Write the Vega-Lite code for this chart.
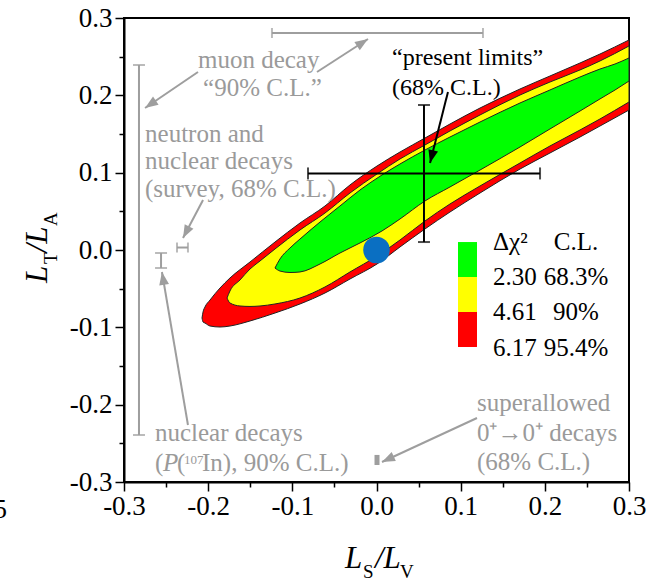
{
 "$schema": "https://vega.github.io/schema/vega-lite/v6.json",
 "width": 505, "height": 464,
 "autosize": {"type": "none"},
 "padding": {"left": 124, "top": 18, "right": 38, "bottom": 102},
 "background": "white",
 "config": {"view": {"stroke": "black", "strokeWidth": 2}, "font": "Liberation Serif"},
 "datasets": {
  "red": [
   {"x":-0.2073,"y":-0.0879,"y2":-0.0879},
   {"x":-0.2061,"y":-0.0802,"y2":-0.0931},
   {"x":-0.2038,"y":-0.0737,"y2":-0.0944},
   {"x":-0.1978,"y":-0.0647,"y2":-0.0983},
   {"x":-0.1859,"y":-0.0491,"y2":-0.0996},
   {"x":-0.1741,"y":-0.0362,"y2":-0.0983},
   {"x":-0.1503,"y":-0.0155,"y2":-0.0918},
   {"x":-0.1206,"y":0.0103,"y2":-0.0815},
   {"x":-0.0909,"y":0.0349,"y2":-0.0698},
   {"x":-0.0612,"y":0.0569,"y2":-0.0556},
   {"x":-0.0315,"y":0.0841,"y2":-0.0375},
   {"x":0.0006,"y":0.1086,"y2":-0.0181},
   {"x":0.0279,"y":0.1267,"y2":0.0039},
   {"x":0.0576,"y":0.1448,"y2":0.0272},
   {"x":0.0873,"y":0.1629,"y2":0.0491},
   {"x":0.1230,"y":0.1836,"y2":0.0737},
   {"x":0.1705,"y":0.2082,"y2":0.1047},
   {"x":0.2061,"y":0.2250,"y2":0.1254},
   {"x":0.2418,"y":0.2418,"y2":0.1461},
   {"x":0.2655,"y":0.2534,"y2":0.1603},
   {"x":0.3,"y":0.2716,"y2":0.1810}
  ],
  "yellow": [
   {"x":-0.1776,"y":-0.0621,"y2":-0.0621},
   {"x":-0.1741,"y":-0.0530,"y2":-0.0685},
   {"x":-0.1622,"y":-0.0388,"y2":-0.0724},
   {"x":-0.1503,"y":-0.0246,"y2":-0.0730},
   {"x":-0.1384,"y":-0.0142,"y2":-0.0724},
   {"x":-0.1206,"y":0.0013,"y2":-0.0698},
   {"x":-0.0909,"y":0.0259,"y2":-0.0621},
   {"x":-0.0612,"y":0.0478,"y2":-0.0478},
   {"x":-0.0315,"y":0.0737,"y2":-0.0284},
   {"x":0.0006,"y":0.0983,"y2":-0.0078},
   {"x":0.0279,"y":0.1177,"y2":0.0129},
   {"x":0.0576,"y":0.1358,"y2":0.0375},
   {"x":0.0873,"y":0.1539,"y2":0.0595},
   {"x":0.1230,"y":0.1746,"y2":0.0828},
   {"x":0.1705,"y":0.2004,"y2":0.1125},
   {"x":0.2061,"y":0.2172,"y2":0.1345},
   {"x":0.2418,"y":0.2328,"y2":0.1552},
   {"x":0.2655,"y":0.2444,"y2":0.1694},
   {"x":0.3,"y":0.2638,"y2":0.1914}
  ],
  "green": [
   {"x":-0.1206,"y":-0.0233,"y2":-0.0233},
   {"x":-0.1147,"y":-0.0116,"y2":-0.0272},
   {"x":-0.1028,"y":0.0026,"y2":-0.0291},
   {"x":-0.0909,"y":0.0142,"y2":-0.0284},
   {"x":-0.0671,"y":0.0362,"y2":-0.0181},
   {"x":-0.0434,"y":0.0569,"y2":-0.0039},
   {"x":-0.0196,"y":0.0776,"y2":0.0091},
   {"x":0.0065,"y":0.0970,"y2":0.0246},
   {"x":0.0279,"y":0.1112,"y2":0.0401},
   {"x":0.0576,"y":0.1293,"y2":0.0634},
   {"x":0.0873,"y":0.1461,"y2":0.0815},
   {"x":0.1230,"y":0.1655,"y2":0.1034},
   {"x":0.1705,"y":0.1901,"y2":0.1332},
   {"x":0.2061,"y":0.2069,"y2":0.1565},
   {"x":0.2418,"y":0.2237,"y2":0.1797},
   {"x":0.2655,"y":0.2340,"y2":0.1953},
   {"x":0.2834,"y":0.2405,"y2":0.2069},
   {"x":0.3,"y":0.2483,"y2":0.2185}
  ]
 },
 "encoding": {
  "x": {"field": "x", "type": "quantitative",
   "scale": {"domain": [-0.3, 0.3], "nice": false, "zero": false},
   "axis": {"title": null, "values": [-0.3,-0.25,-0.2,-0.15,-0.1,-0.05,0,0.05,0.1,0.15,0.2,0.25,0.3],
    "labelExpr": "abs(datum.value*10 - round(datum.value*10)) > 0.01 ? '' : (datum.value < -0.001 ? '-' : '') + format(abs(datum.value), '.1f')",
    "labelFont": "Liberation Serif", "labelFontSize": 27, "labelColor": "black", "labelPadding": 2,
    "labelFlush": false, "labelOverlap": false, "grid": false,
    "tickSize": {"condition": {"test": "abs(datum.value*10 - round(datum.value*10)) > 0.01", "value": 5}, "value": 9},
    "tickColor": "black", "tickWidth": 1.5, "domainColor": "black", "domainWidth": 2}},
  "y": {"field": "y", "type": "quantitative",
   "scale": {"domain": [-0.3, 0.3], "nice": false, "zero": false},
   "axis": {"title": null, "values": [-0.3,-0.25,-0.2,-0.15,-0.1,-0.05,0,0.05,0.1,0.15,0.2,0.25,0.3],
    "labelExpr": "abs(datum.value*10 - round(datum.value*10)) > 0.01 ? '' : (datum.value < -0.001 ? '-' : '') + format(abs(datum.value), '.1f')",
    "labelFont": "Liberation Serif", "labelFontSize": 27, "labelColor": "black", "labelPadding": 3,
    "labelFlush": false, "labelOverlap": false, "grid": false,
    "tickSize": {"condition": {"test": "abs(datum.value*10 - round(datum.value*10)) > 0.01", "value": 5}, "value": 9},
    "tickColor": "black", "tickWidth": 1.5, "domainColor": "black", "domainWidth": 2}}
 },
 "layer": [
  {"data": {"name": "red"}, "mark": {"type": "area", "interpolate": "monotone", "fill": "#ff0000", "stroke": "#222", "strokeWidth": 1, "opacity": 1}, "encoding": {"y2": {"field": "y2"}}},
  {"data": {"name": "yellow"}, "mark": {"type": "area", "interpolate": "monotone", "fill": "#ffff00", "stroke": "#222", "strokeWidth": 1, "opacity": 1}, "encoding": {"y2": {"field": "y2"}}},
  {"data": {"name": "green"}, "mark": {"type": "area", "interpolate": "monotone", "fill": "#00ff00", "stroke": "#222", "strokeWidth": 1, "opacity": 1}, "encoding": {"y2": {"field": "y2"}}},

  {"data": {"values": [{"x": -0.1242, "x2": 0.1265, "y": 0.2806}, {"x": -0.2370, "x2": -0.2240, "y": 0.0032}]},
   "mark": {"type": "errorbar", "color": "#9e9e9e", "thickness": 2, "ticks": {"size": 10}},
   "encoding": {"x2": {"field": "x2"}}},
  {"data": {"values": [{"x": -0.2822, "y": -0.2392, "y2": 0.2392}, {"x": -0.2560, "y": -0.0233, "y2": -0.0039}]},
   "mark": {"type": "errorbar", "color": "#9e9e9e", "thickness": 2, "ticks": {"size": 12}},
   "encoding": {"y2": {"field": "y2"}}},
  {"data": {"values": [{"x": 0.0006, "y": -0.278, "y2": -0.265}]},
   "mark": {"type": "rule", "color": "#9e9e9e", "strokeWidth": 5}, "encoding": {"y2": {"field": "y2"}}},

  {"data": {"values": [
    {"x": -0.2121, "y": 0.2302, "x2": -0.2750, "y2": 0.1836},
    {"x": -0.0707, "y": 0.2302, "x2": -0.0101, "y2": 0.2728},
    {"x": -0.2061, "y": 0.0647, "x2": -0.2299, "y2": 0.0155},
    {"x": -0.2240, "y": -0.2263, "x2": -0.2549, "y2": -0.0284},
    {"x": 0.1194, "y": -0.2172, "x2": 0.0065, "y2": -0.2741}]},
   "mark": {"type": "rule", "color": "#9e9e9e", "strokeWidth": 2},
   "encoding": {"x2": {"field": "x2"}, "y2": {"field": "y2"}}},
  {"data": {"values": [{"x": -0.2750, "y": 0.1836}]}, "mark": {"type": "point", "shape": "M0,0L-0.38,1L0.38,1Z", "size": 676, "filled": true, "color": "#9e9e9e", "opacity": 1, "angle": 235.8}},
  {"data": {"values": [{"x": -0.0101, "y": 0.2728}]}, "mark": {"type": "point", "shape": "M0,0L-0.38,1L0.38,1Z", "size": 676, "filled": true, "color": "#9e9e9e", "opacity": 1, "angle": 57.1}},
  {"data": {"values": [{"x": -0.2299, "y": 0.0155}]}, "mark": {"type": "point", "shape": "M0,0L-0.38,1L0.38,1Z", "size": 676, "filled": true, "color": "#9e9e9e", "opacity": 1, "angle": 207.8}},
  {"data": {"values": [{"x": -0.2549, "y": -0.0284}]}, "mark": {"type": "point", "shape": "M0,0L-0.38,1L0.38,1Z", "size": 676, "filled": true, "color": "#9e9e9e", "opacity": 1, "angle": 350.4}},
  {"data": {"values": [{"x": 0.0065, "y": -0.2741}]}, "mark": {"type": "point", "shape": "M0,0L-0.38,1L0.38,1Z", "size": 676, "filled": true, "color": "#9e9e9e", "opacity": 1, "angle": 245.1}},

  {"data": {"values": [{"x": -0.0814, "x2": 0.1943, "y": 0.099}]},
   "mark": {"type": "errorbar", "color": "black", "thickness": 2, "ticks": {"size": 12}},
   "encoding": {"x2": {"field": "x2"}}},
  {"data": {"values": [{"x": 0.0564, "y": 0.0103, "y2": 0.1875}]},
   "mark": {"type": "errorbar", "color": "black", "thickness": 2, "ticks": {"size": 12}},
   "encoding": {"y2": {"field": "y2"}}},
  {"data": {"values": [{"x": 0.0849, "y": 0.2043, "x2": 0.0636, "y2": 0.1125}]},
   "mark": {"type": "rule", "color": "black", "strokeWidth": 2},
   "encoding": {"x2": {"field": "x2"}, "y2": {"field": "y2"}}},
  {"data": {"values": [{"x": 0.0636, "y": 0.1125}]}, "mark": {"type": "point", "shape": "M0,0L-0.38,1L0.38,1Z", "size": 676, "filled": true, "color": "black", "opacity": 1, "angle": 194.2}},

  {"data": {"values": [{"x": 0, "y": 0}]}, "mark": {"type": "circle", "size": 707, "color": "#0a6fc2", "opacity": 1}},

  {"data": {"values": [
    {"x": 0.0968, "x2": 0.1194, "y": 0.0103, "y2": -0.0349, "level": "2.30"},
    {"x": 0.0968, "x2": 0.1194, "y": -0.0349, "y2": -0.0802, "level": "4.61"},
    {"x": 0.0968, "x2": 0.1194, "y": -0.0802, "y2": -0.1254, "level": "6.17"}]},
   "mark": {"type": "rect", "opacity": 1},
   "encoding": {"x2": {"field": "x2"}, "y2": {"field": "y2"},
    "color": {"field": "level", "type": "nominal", "scale": {"domain": ["2.30", "4.61", "6.17"], "range": ["#00ff00", "#ffff00", "#ff0000"]}, "legend": null}}},

  {"data": {"values": [
    {"x": -0.2121, "y": 0.2353, "t": "muon decay"},
    {"x": -0.2061, "y": 0.1991, "t": "“90% C.L.”"},
    {"x": -0.2750, "y": 0.1397, "t": "neutron and"},
    {"x": -0.2750, "y": 0.1047, "t": "nuclear decays"},
    {"x": -0.2750, "y": 0.0685, "t": "(survey, 68% C.L.)"},
    {"x": -0.2632, "y": -0.2466, "t": "nuclear decays"},
    {"x": -0.2632, "y": -0.2854, "t": "("},
    {"x": -0.2370, "y": -0.2854, "t": "("},
    {"x": -0.2073, "y": -0.2854, "t": "In), 90% C.L.)"},
    {"x": 0.1194, "y": -0.2082, "t": "superallowed"},
    {"x": 0.1194, "y": -0.2466, "t": "0⁺→0⁺ decays"},
    {"x": 0.1194, "y": -0.2845, "t": "(68% C.L.)"}]},
   "mark": {"type": "text", "align": "left", "baseline": "alphabetic", "font": "Liberation Serif", "fontSize": 25, "color": "#9a9a9a"},
   "encoding": {"text": {"field": "t"}}},
  {"data": {"values": [{"x": -0.2537, "y": -0.2854, "t": "P"}]},
   "mark": {"type": "text", "align": "left", "baseline": "alphabetic", "font": "Liberation Serif", "fontSize": 25, "fontStyle": "italic", "color": "#9a9a9a"},
   "encoding": {"text": {"field": "t"}}},
  {"data": {"values": [{"x": -0.2287, "y": -0.2767, "t": "107"}]},
   "mark": {"type": "text", "align": "left", "baseline": "alphabetic", "font": "Liberation Serif", "fontSize": 13, "color": "#9a9a9a"},
   "encoding": {"text": {"field": "t"}}},

  {"data": {"values": [
    {"x": 0.0184, "y": 0.2392, "t": "“present limits”"},
    {"x": 0.0184, "y": 0.2004, "t": "(68% C.L.)"}]},
   "mark": {"type": "text", "align": "left", "baseline": "alphabetic", "font": "Liberation Serif", "fontSize": 24, "color": "black"},
   "encoding": {"text": {"field": "t"}}},

  {"data": {"values": [
    {"x": 0.1384, "y": 0.0, "t": "Δχ²"},
    {"x": 0.1384, "y": -0.0453, "t": "2.30"},
    {"x": 0.1384, "y": -0.0905, "t": "4.61"},
    {"x": 0.1384, "y": -0.1371, "t": "6.17"}]},
   "mark": {"type": "text", "align": "left", "baseline": "alphabetic", "font": "Liberation Serif", "fontSize": 25, "color": "black"},
   "encoding": {"text": {"field": "t"}}},
  {"data": {"values": [
    {"x": 0.237, "y": 0.0, "t": "C.L."},
    {"x": 0.237, "y": -0.0453, "t": "68.3%"},
    {"x": 0.237, "y": -0.0905, "t": "90%"},
    {"x": 0.237, "y": -0.1371, "t": "95.4%"}]},
   "mark": {"type": "text", "align": "center", "baseline": "alphabetic", "font": "Liberation Serif", "fontSize": 25, "color": "black"},
   "encoding": {"text": {"field": "t"}}},

  {"data": {"values": [{"x": -0.0374, "y": -0.4112, "t": "L"}, {"x": -0.0018, "y": -0.4112, "t": "/L"}]},
   "mark": {"type": "text", "align": "left", "baseline": "alphabetic", "font": "Liberation Serif", "fontSize": 31, "fontStyle": "italic", "color": "black"},
   "encoding": {"text": {"field": "t"}}},
  {"data": {"values": [{"x": -0.0160, "y": -0.4241, "t": "S"}, {"x": 0.0280, "y": -0.4241, "t": "V"}]},
   "mark": {"type": "text", "align": "left", "baseline": "alphabetic", "font": "Liberation Serif", "fontSize": 19, "color": "black"},
   "encoding": {"text": {"field": "t"}}},
  {"data": {"values": [{"x": -0.3915, "y": -0.0427, "t": "L"}, {"x": -0.3915, "y": -0.0032, "t": "/L"}]},
   "mark": {"type": "text", "align": "left", "baseline": "alphabetic", "angle": 270, "font": "Liberation Serif", "fontSize": 31, "fontStyle": "italic", "color": "black"},
   "encoding": {"text": {"field": "t"}}},
  {"data": {"values": [{"x": -0.3796, "y": -0.0181, "t": "T"}, {"x": -0.3796, "y": 0.0310, "t": "A"}]},
   "mark": {"type": "text", "align": "left", "baseline": "alphabetic", "angle": 270, "font": "Liberation Serif", "fontSize": 19, "color": "black"},
   "encoding": {"text": {"field": "t"}}},
  {"data": {"values": [{"x": -0.4390, "y": -0.3466, "t": "5"}]},
   "mark": {"type": "text", "align": "right", "baseline": "alphabetic", "font": "Liberation Serif", "fontSize": 27, "color": "black"},
   "encoding": {"text": {"field": "t"}}}
 ]
}
